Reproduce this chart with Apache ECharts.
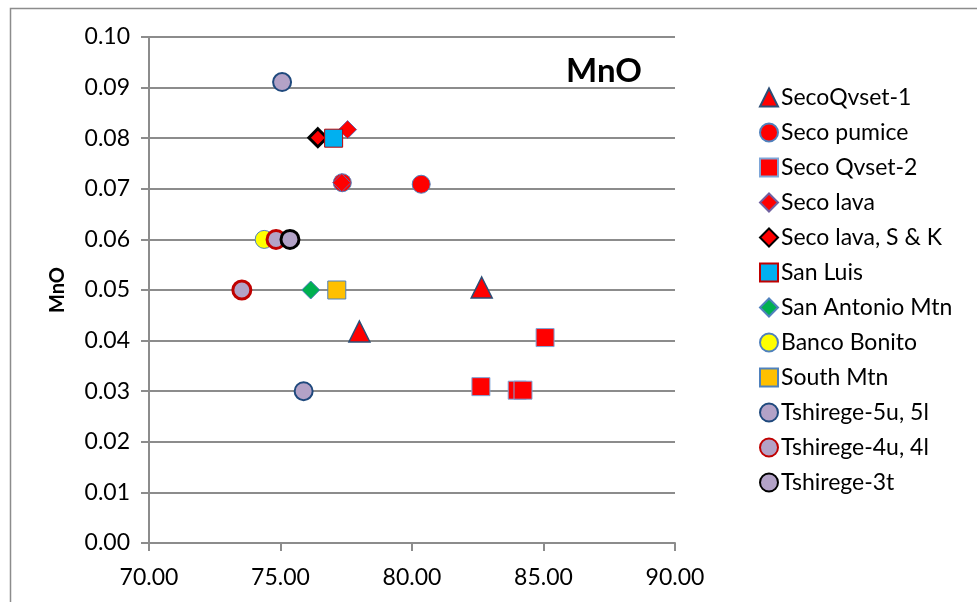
<!DOCTYPE html>
<html><head><meta charset="utf-8">
<script src="https://cdn.jsdelivr.net/npm/echarts@6/dist/echarts.min.js"></script>
<style>html,body{margin:0;padding:0;background:#fff}#c{width:977px;height:602px}</style>
</head><body><div id="c"></div>
<script>
const seriesNames = ["SecoQvset-1","Seco pumice","Seco Qvset-2","Seco lava","Seco lava, S & K","San Luis","San Antonio Mtn","Banco Bonito","South Mtn","Tshirege-5u, 5l","Tshirege-4u, 4l","Tshirege-3t"];
const secoQvset1 = [[82.65, 0.0505],[78.0, 0.0418]];
const secoPumice = [[77.35, 0.0712],[80.35, 0.0709]];
const secoQvset2 = [[82.62, 0.0309],[84.0, 0.0302],[84.22, 0.0302],[85.06, 0.0406]];
const secoLava = [[77.55, 0.0817],[77.33, 0.0712]];
const secoLavaSK = [[76.42, 0.0801]];
const sanLuis = [[77.02, 0.0800]];
const sanAntonio = [[76.15, 0.0500]];
const bancoBonito = [[74.38, 0.0600]];
const southMtn = [[77.14, 0.0500]];
const tsh5 = [[75.06, 0.0911],[75.88, 0.0300]];
const tsh4 = [[74.83, 0.0600],[73.53, 0.0500]];
const tsh3 = [[75.36, 0.0600]];
const xTicks = [70, 75, 80, 85, 90];
const yTicks = [0,0.01,0.02,0.03,0.04,0.05,0.06,0.07,0.08,0.09,0.10];

const datasets = [secoQvset1, secoPumice, secoQvset2, secoLava, secoLavaSK, sanLuis, sanAntonio, bancoBonito, southMtn, tsh5, tsh4, tsh3];
const styles = [
  {symbol:'triangle', size:21, color:'#ff0000', border:'#2c4d75', bw:1.5},
  {symbol:'circle', size:18, color:'#ff0000', border:'#4f81bd', bw:1},
  {symbol:'rect', size:18, color:'#ff0000', border:'#7ea6d8', bw:1},
  {symbol:'diamond', size:18, color:'#ff0000', border:'#7060a0', bw:1},
  {symbol:'diamond', size:18, color:'#ff0000', border:'#000000', bw:3},
  {symbol:'rect', size:18, color:'#00b0f0', border:'#c00000', bw:1},
  {symbol:'diamond', size:18, color:'#00b050', border:'#4f81bd', bw:1},
  {symbol:'circle', size:18, color:'#ffff00', border:'#4f81bd', bw:1},
  {symbol:'rect', size:18, color:'#ffc000', border:'#4f81bd', bw:1},
  {symbol:'circle', size:18, color:'#b3a2c7', border:'#1f497d', bw:2},
  {symbol:'circle', size:18, color:'#b3a2c7', border:'#c00000', bw:3},
  {symbol:'circle', size:18, color:'#b3a2c7', border:'#000000', bw:3}
];
const FONT = 'Lato, "Open Sans", sans-serif';
const chart = echarts.init(document.getElementById('c'), null, {renderer:'canvas'});
chart.setOption({
  animation:false,
  backgroundColor:'#ffffff',
  graphic:[
    {type:'rect', shape:{x:10.5,y:8.5,width:1200,height:800}, style:{fill:'none', stroke:'#8c8c8c', lineWidth:1.5}, silent:true},
    {type:'text', left:566, top:55, style:{text:'MnO', font:'bold 33px '+FONT, fill:'#000'}}
  ],
  grid:{left:149, top:37, right:302, bottom:59},
  legend:{
    orient:'vertical', left:754, top:81, itemGap:12, itemWidth:18, itemHeight:18,
    textStyle:{fontSize:23, lineHeight:23, color:'#000', fontFamily:FONT, padding:[0,0,0,-2]},
    data:seriesNames
  },
  xAxis:{
    type:'value', min:70, max:90, interval:5,
    axisLine:{lineStyle:{color:'#8c8c8c', width:2}},
    axisTick:{show:true, length:8, lineStyle:{color:'#8c8c8c', width:2}},
    axisLabel:{formatter:v=>v.toFixed(2), fontSize:23, color:'#000', fontFamily:FONT, margin:23},
    splitLine:{show:false}
  },
  yAxis:{
    type:'value', min:0, max:0.1, interval:0.01,
    name:'MnO', nameLocation:'middle', nameGap:81, nameRotate:90,
    nameTextStyle:{fontSize:20, fontWeight:'bold', color:'#000', fontFamily:FONT},
    axisLine:{show:true, lineStyle:{color:'#8c8c8c', width:2}},
    axisTick:{show:true, length:8, lineStyle:{color:'#8c8c8c', width:2}},
    axisLabel:{formatter:v=>v.toFixed(2), fontSize:23, color:'#000', fontFamily:FONT, margin:19},
    splitLine:{show:true, lineStyle:{color:'#8c8c8c', width:2}}
  },
  series: datasets.map((d,i)=>({
    name:seriesNames[i], type:'scatter', data:d,
    symbol:styles[i].symbol, symbolSize:styles[i].size,
    itemStyle:{color:styles[i].color, borderColor:styles[i].border, borderWidth:styles[i].bw, opacity:1}
  }))
});
</script></body></html>
